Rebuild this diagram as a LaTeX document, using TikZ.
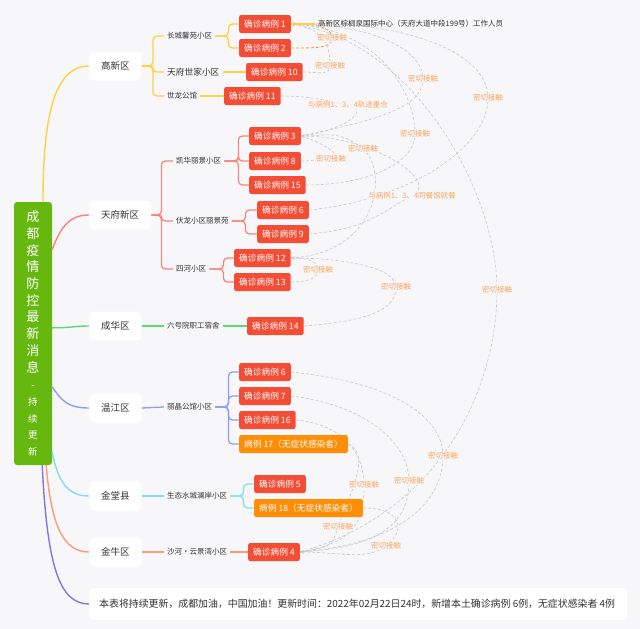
\documentclass[tikz,border=0pt]{standalone}
\usepackage{fontspec}
\setmainfont{Noto Sans CJK SC}
\usetikzlibrary{arrows.meta,calc,positioning}
\definecolor{bgcol}{HTML}{F7F7FA}
\definecolor{textcol}{HTML}{333333}
\definecolor{rootcol}{HTML}{66B810}
\definecolor{casered}{HTML}{F44D36}
\definecolor{caseorange}{HTML}{FD8E08}
\definecolor{relgray}{HTML}{C8C8C8}
\definecolor{relorange}{HTML}{F79A3E}
\definecolor{lblcol}{HTML}{F7A55E}
\definecolor{ybr}{HTML}{FFD043}
\definecolor{rbr}{HTML}{F7867A}
\definecolor{gbr}{HTML}{5ED67A}
\definecolor{bbr}{HTML}{8C9EF7}
\definecolor{cbr}{HTML}{80DDF5}
\definecolor{obr}{HTML}{FF9B73}
\definecolor{pbr}{HTML}{8A70EB}
\pgfdeclarelayer{bg}
\pgfdeclarelayer{rel}
\pgfsetlayers{bg,rel,main}
\newcommand\rootsm{\fontsize{9.5}{16.7}\selectfont}
\tikzset{
  rootbox/.style={fill=rootcol, text=white, rounded corners=3pt, minimum width=38pt,
    minimum height=263pt, align=center, inner sep=0pt, font=\fontsize{13}{16.7}\selectfont},
  district/.style={fill=white, rounded corners=5pt, minimum height=29pt, inner xsep=12pt,
    font=\fontsize{9.5}{11}\selectfont, text=textcol, anchor=west},
  note/.style={fill=white, rounded corners=5pt, minimum height=32pt, inner xsep=10pt,
    font=\fontsize{9.9}{11}\selectfont, text=textcol, anchor=west},
  estate/.style={inner xsep=3pt, inner ysep=1pt, font=\fontsize{7.5}{9}\selectfont,
    text=textcol, anchor=west},
  case/.style={fill=casered, text=white, rounded corners=2pt, minimum height=18pt,
    inner xsep=5pt, inner ysep=0pt, font=\fontsize{8.7}{10}\selectfont, anchor=west},
  nosym/.style={case, fill=caseorange},
  br/.style={line width=1.4pt},
  sub/.style={line width=1.3pt, rounded corners=4pt},
  rel/.style={draw=relgray, line width=0.6pt, dash pattern=on 3pt off 2pt,
    -{Stealth[length=3.5pt,width=3pt]}},
  relo/.style={rel, draw=relorange, line width=0.9pt},
  lbl/.style={font=\fontsize{7.5}{9}\selectfont, text=lblcol, fill=bgcol,
    fill opacity=0.85, text opacity=1, inner sep=0.5pt},
}
\begin{document}
\begin{tikzpicture}[x=1pt,y=-1pt]
  \begin{pgfonlayer}{bg}
    \fill[bgcol] (0,0) rectangle (640,629);
  \end{pgfonlayer}
  \useasboundingbox (0,0) rectangle (640,629);
  % Root and districts
  \node[rootbox] (root) at (33,333.5) {成\\都\\疫\\情\\防\\控\\最\\新\\消\\息\\\rootsm -\\\rootsm 持\\\rootsm 续\\\rootsm 更\\\rootsm 新};
  \node[district] (gaoxin) at (89,66) {高新区};
  \node[district] (tianfu) at (89,215) {天府新区};
  \node[district] (chenghua) at (89,326) {成华区};
  \node[district] (wenjiang) at (89,408) {温江区};
  \node[district] (jintang) at (89,496) {金堂县};
  \node[district] (jinniu) at (89,552) {金牛区};
  \node[note] (note) at (89,604) {\makebox[518pt][l]{本表将持续更新，成都加油，中国加油！更新时间：2022年02月22日24时，新增本土确诊病例 6例，无症状感染者 4例}};
  % Estates
  \node[estate] (ccxy) at (164,36) {长城馨苑小区};
  \node[estate, font=\fontsize{8.7}{10}\selectfont] (tfsj) at (164,72) {天府世家小区};
  \node[estate] (slgg) at (164,96) {世龙公馆};
  \node[estate] (khlj) at (173,161) {凯华丽景小区};
  \node[estate] (fllj) at (173,221) {伏龙小区丽景苑};
  \node[estate] (shxq) at (173,269) {四河小区};
  \node[estate] (lhy) at (164,326) {六号院职工宿舍};
  \node[estate] (ljgg) at (164,407) {丽晶公馆小区};
  \node[estate] (stsc) at (164,496) {生态水城澜岸小区};
  \node[estate] (shyj) at (164,552) {沙河·云景湾小区};
  % Cases
  \node[case] (c1) at (239,24) {确诊病例 1};
  \node[case] (c2) at (239,48) {确诊病例 2};
  \node[case] (c10) at (246,72) {确诊病例 10};
  \node[case] (c11) at (224,96) {确诊病例 11};
  \node[case] (c3) at (249,136) {确诊病例 3};
  \node[case] (c8) at (249,161) {确诊病例 8};
  \node[case] (c15) at (249,185) {确诊病例 15};
  \node[case] (c6) at (257,210) {确诊病例 6};
  \node[case] (c9) at (257,234) {确诊病例 9};
  \node[case] (c12) at (234,258) {确诊病例 12};
  \node[case] (c13) at (234,282) {确诊病例 13};
  \node[case] (c14) at (247,326) {确诊病例 14};
  \node[case] (wj6) at (239,372) {确诊病例 6};
  \node[case] (wj7) at (239,396) {确诊病例 7};
  \node[case] (wj16) at (239,420) {确诊病例 16};
  \node[nosym] (wj17) at (239,444) {病例 17（无症状感染者）};
  \node[case] (c5) at (254,484) {确诊病例 5};
  \node[nosym] (c18) at (254,508) {病例 18（无症状感染者）};
  \node[case] (c4) at (248,552) {确诊病例 4};
  \node[estate] (staff) at (315,24) {高新区棕榈泉国际中心（天府大道中段199号）工作人员};
  % Branches from the root
  \draw[br, draw=ybr] ([xshift=10pt]root.north) .. controls +(0,-85) and +(-35,0) .. (gaoxin.west);
  \draw[br, draw=rbr] ([yshift=-48pt]root.north east) .. controls +(8,-22) and +(-20,0) .. (tianfu.west);
  \draw[br, draw=gbr] ([yshift=-126pt]root.north east) .. controls +(20,0) and +(-15,0) .. (chenghua.west);
  \draw[br, draw=bbr] ([yshift=-185pt]root.north east) .. controls +(10,15) and +(-20,0) .. (wenjiang.west);
  \draw[br, draw=cbr] ([yshift=-250pt]root.north east) .. controls +(6,32) and +(-20,0) .. (jintang.west);
  \draw[br, draw=obr] ([xshift=-6pt]root.south east) .. controls +(5,62) and +(-25,0) .. (jinniu.west);
  \draw[br, draw=pbr] ([xshift=-10pt]root.south east) .. controls +(5,100) and +(-30,0) .. (note.west);
  % Branches to estates and cases
  \foreach \e in {ccxy,tfsj,slgg} \draw[sub, draw=ybr] (gaoxin.east) -- ++(11,0) |- (\e.west);
  \foreach \c in {c1,c2} \draw[sub, draw=ybr] (ccxy.east) -- ++(13,0) |- (\c.west);
  \draw[sub, draw=ybr] (tfsj.east) -- (c10.west);
  \draw[sub, draw=ybr] (slgg.east) -- (c11.west);
  \draw[sub, draw=ybr] (c1.east) -- (staff.west);
  \foreach \e in {khlj,fllj,shxq} \draw[sub, draw=rbr] (tianfu.east) -- ++(10,0) |- (\e.west);
  \foreach \c in {c3,c8,c15} \draw[sub, draw=rbr] (khlj.east) -- ++(14,0) |- (\c.west);
  \foreach \c in {c6,c9} \draw[sub, draw=rbr] (fllj.east) -- ++(13.5,0) |- (\c.west);
  \foreach \c in {c12,c13} \draw[sub, draw=rbr] (shxq.east) -- ++(14,0) |- (\c.west);
  \draw[sub, draw=gbr] (chenghua.east) -- (lhy.west);
  \draw[sub, draw=gbr] (lhy.east) -- (c14.west);
  \draw[sub, draw=bbr] (wenjiang.east) -- (ljgg.west);
  \foreach \c in {wj6,wj7,wj16,wj17} \draw[sub, draw=bbr] (ljgg.east) -- ++(13,0) |- (\c.west);
  \draw[sub, draw=cbr] (jintang.east) -- (stsc.west);
  \foreach \c in {c5,c18} \draw[sub, draw=cbr] (stsc.east) -- ++(13,0) |- (\c.west);
  \draw[sub, draw=obr] (jinniu.east) -- (shyj.west);
  \draw[sub, draw=obr] (shyj.east) -- (c4.west);
  % Relationships
  \begin{pgfonlayer}{rel}
    \coordinate (m1) at (332,38);   \coordinate (m2) at (330,66);
    \coordinate (m3) at (423,79);   \coordinate (m4) at (488,98);
    \coordinate (m5) at (348,105);  \coordinate (m6) at (415,134);
    \coordinate (m7) at (363,149);  \coordinate (m8) at (331,159);
    \coordinate (m9) at (412,196);  \coordinate (m10) at (318,270);
    \coordinate (m11) at (396,287); \coordinate (m12) at (497,290);
    \coordinate (m13) at (443,456); \coordinate (m14) at (409,481);
    \coordinate (m15) at (364,485); \coordinate (m16) at (338,527);
    \coordinate (m17) at (386,546);
    \draw[relo] (c2.east) .. controls +(28,0) and +(0,10) .. (m1) .. controls +(0,-10) and +(28,0) .. (c1.east);
    \draw[rel] (c10.east) .. controls +(15,0) and +(0,10) .. (m2) .. controls +(0,-25) and +(30,5) .. (c1.east);
    \draw[rel] (c3.east) .. controls +(70,-15) and +(0,30) .. (m3) .. controls +(0,-30) and +(80,0) .. (c1.east);
    \draw[rel] (c6.east) .. controls +(100,-10) and +(0,50) .. (m4) .. controls +(0,-50) and +(100,-5) .. (c1.east);
    \draw[rel] (c11.east) .. controls +(30,0) and +(-25,-5) .. (m5) .. controls +(25,5) and +(40,-5) .. (c3.east);
    \draw[rel] (c15.east) .. controls +(60,0) and +(0,30) .. (m6) .. controls +(0,-40) and +(90,5) .. (c1.east);
    \draw[rel] (c12.east) .. controls +(90,-5) and +(25,20) .. (m7) .. controls +(-25,-20) and +(25,0) .. (c3.east);
    \draw[rel] (c8.east) .. controls +(12,0) and +(-12,0) .. (m8) .. controls +(15,0) and +(25,8) .. (c3.east);
    \draw[rel] (c9.east) .. controls +(60,-5) and +(-30,15) .. (m9) .. controls +(30,-15) and +(70,0) .. (c3.east);
    \draw[rel] (c13.east) .. controls +(18,0) and +(0,8) .. (m10) .. controls +(0,-8) and +(18,0) .. (c12.east);
    \draw[rel] (c14.east) .. controls +(60,-5) and +(0,25) .. (m11) .. controls +(0,-20) and +(50,0) .. (c12.east);
    \draw[rel] (c4.east) .. controls +(140,-40) and +(0,100) .. (m12) .. controls +(0,-100) and +(120,15) .. (c1.east);
    \draw[rel] (wj6.east) .. controls +(100,10) and +(0,-40) .. (m13) .. controls +(0,40) and +(110,-10) .. (c4.east);
    \draw[rel] (wj7.east) .. controls +(80,10) and +(0,-35) .. (m14) .. controls +(0,35) and +(90,-5) .. (c4.east);
    \draw[rel] (wj16.east) .. controls +(50,5) and +(0,-30) .. (m15) .. controls +(0,30) and +(60,-10) .. (c4.east);
    \draw[rel] (wj17.east) .. controls +(25,10) and +(10,-30) .. (m16) .. controls +(-5,15) and +(35,-5) .. (c4.east);
    \draw[rel] (c18.east) .. controls +(40,0) and +(20,-15) .. (m17) .. controls +(-20,15) and +(40,0) .. (c4.east);
    % Labels
    \foreach \m in {m1,m2,m3,m4,m6,m7,m8,m10,m11,m12,m13,m14,m15,m16,m17}
      \node[lbl] (t\m) at (\m) {密切接触};
    \node[lbl] (tm5) at (m5) {与病例1、3、4轨迹重合};
    \node[lbl] (tm9) at (m9) {与病例1、3、4同餐馆就餐};
  \end{pgfonlayer}
\end{tikzpicture}
\end{document}
